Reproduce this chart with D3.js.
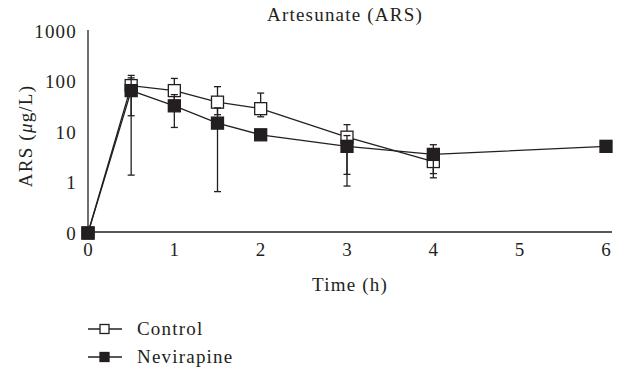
<!DOCTYPE html>
<html>
<head>
<meta charset="utf-8">
<script src="https://cdn.jsdelivr.net/npm/d3@7"></script>
<style>
  body { margin: 0; background: #fff; }
  svg text { font-family: "Liberation Serif", "Times New Roman", serif; fill: #231f20; letter-spacing: 1.2px; }
</style>
</head>
<body>
<svg id="chart" width="618" height="368"></svg>
<script>
// data (0 is drawn on the "0" line of the log axis)
const ctrlTimes = [0, 0.5, 1, 1.5, 2, 3, 4];
const ctrlMean  = [0, 83, 66, 39, 29, 7.9, 2.6];
const ctrlLow   = [null, 21, 40, 22, 20, 1.45, 1.24];
const ctrlHigh  = [null, 132, 115, 79, 59, 14, 3.3];

const nvpTimes = [0, 0.5, 1, 1.5, 2, 3, 4, 6];
const nvpMean  = [0, 66, 33, 15, 8.8, 5.2, 3.6, 5.2];
const nvpLow   = [null, 1.4, 12.3, 0.66, 7.6, 0.85, 1.5, null];
const nvpHigh  = [null, 118, 55, 30, 10.2, 8.5, 5.6, null];

const xTicks = [0, 1, 2, 3, 4, 5, 6];
const yTicks = [0.1, 1, 10, 100, 1000];
const yTickLabels = ["0", "1", "10", "100", "1000"];

const svg = d3.select("#chart");
const ink = "#231f20";
const fs = 19;

const x = d3.scaleLinear().domain([0, 6]).range([88, 606]);
const y = d3.scaleLog().domain([0.1, 1000]).range([233, 31]);
const yv = v => y(v <= 0 ? 0.1 : v);

// axes
const xAxis = svg.append("g")
  .attr("transform", "translate(0,232)")
  .call(d3.axisBottom(x).tickValues(xTicks).tickSize(0).tickPadding(11).tickFormat(d3.format("d")));
xAxis.select(".domain").attr("d", "M88,0H612").attr("stroke", ink).attr("stroke-width", 1.3);
xAxis.selectAll("text").attr("font-size", fs).attr("fill", ink);

const yAxis = svg.append("g")
  .attr("transform", "translate(88,0)")
  .call(d3.axisLeft(y).tickValues(yTicks).tickSize(0).tickPadding(11)
    .tickFormat((d, i) => yTickLabels[i]));
yAxis.select(".domain").attr("d", "M0,30V232").attr("stroke", ink).attr("stroke-width", 1.3);
yAxis.selectAll("text").attr("font-size", fs).attr("fill", ink);

// title & axis labels
svg.append("text").attr("x", 345).attr("y", 21).attr("text-anchor", "middle")
  .attr("font-size", fs).text("Artesunate (ARS)");
svg.append("text").attr("x", 350).attr("y", 291).attr("text-anchor", "middle")
  .attr("font-size", fs).text("Time (h)");
const yl = svg.append("text").attr("transform", "translate(32,136) rotate(-90)")
  .attr("text-anchor", "middle").attr("font-size", fs);
yl.append("tspan").text("ARS (");
yl.append("tspan").attr("font-style", "italic").text("μ");
yl.append("tspan").text("g/L)");

// draws one series: line, error bars, squares
function drawSeries(times, mean, low, high, fill) {
  const pts = times.map((t, i) => ({ t, m: mean[i], lo: low[i], hi: high[i] }));
  const g = svg.append("g");
  g.append("path").datum(pts)
    .attr("fill", "none").attr("stroke", ink).attr("stroke-width", 1.3)
    .attr("d", d3.line().x(d => x(d.t)).y(d => yv(d.m)));
  const eb = g.selectAll(".eb").data(pts.filter(d => d.lo != null)).join("g");
  eb.append("line")
    .attr("x1", d => x(d.t)).attr("x2", d => x(d.t))
    .attr("y1", d => y(d.lo)).attr("y2", d => y(d.hi))
    .attr("stroke", ink).attr("stroke-width", 1.3);
  ["lo", "hi"].forEach(k => {
    eb.append("line")
      .attr("x1", d => x(d.t) - 3.5).attr("x2", d => x(d.t) + 3.5)
      .attr("y1", d => y(d[k])).attr("y2", d => y(d[k]))
      .attr("stroke", ink).attr("stroke-width", 1.3);
  });
  g.selectAll("rect").data(pts).join("rect")
    .attr("x", d => x(d.t) - 6).attr("y", d => yv(d.m) - 6)
    .attr("width", 12).attr("height", 12)
    .attr("fill", fill).attr("stroke", ink).attr("stroke-width", 1.3);
}

drawSeries(ctrlTimes, ctrlMean, ctrlLow, ctrlHigh, "#fff");
drawSeries(nvpTimes, nvpMean, nvpLow, nvpHigh, ink);

// legend
const legendItems = [{ name: "Control", fill: "#fff" }, { name: "Nevirapine", fill: ink }];
const lg = svg.selectAll(".lg").data(legendItems).join("g")
  .attr("transform", (d, i) => `translate(88,${329 + i * 28})`);
lg.append("line").attr("x1", 0).attr("x2", 34).attr("stroke", ink).attr("stroke-width", 1.3);
lg.append("rect").attr("x", 12).attr("y", -4.5).attr("width", 9).attr("height", 9)
  .attr("fill", d => d.fill).attr("stroke", ink).attr("stroke-width", 1.3);
lg.append("text").attr("x", 49).attr("y", 6).attr("font-size", fs).text(d => d.name);
</script>
</body>
</html>
